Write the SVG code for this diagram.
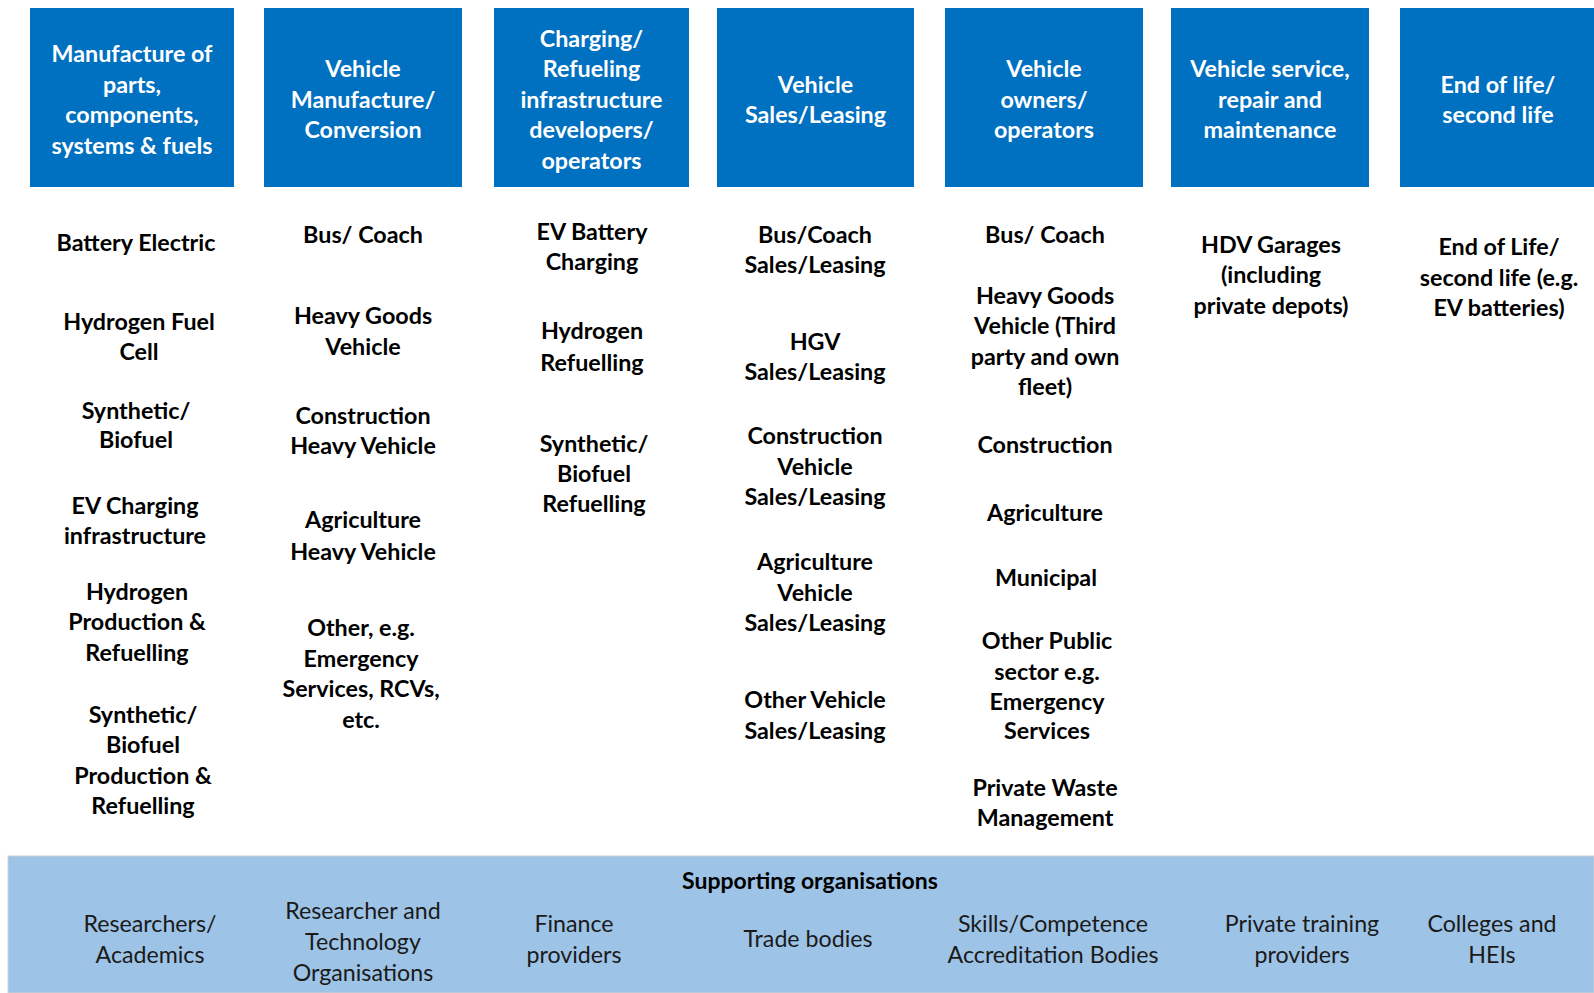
<svg xmlns="http://www.w3.org/2000/svg" width="1594" height="993" viewBox="0 0 1594 993">
<style>
.hdr{fill:#0070C0}
.ht{font-family:Lato,"Open Sans",sans-serif;font-weight:bold;font-size:23.3px;fill:#ffffff;text-anchor:middle}
.bt{font-family:Lato,"Open Sans",sans-serif;font-weight:bold;font-size:23.3px;fill:#000000;text-anchor:middle}
.st{font-family:Lato,"Open Sans",sans-serif;font-size:23.2px;fill:#1a1a1a;text-anchor:middle}
.sh{font-family:Lato,"Open Sans",sans-serif;font-weight:bold;font-size:23px;fill:#000000;text-anchor:middle}
</style>
<rect width="1594" height="993" fill="#ffffff"/>
<g id="col1">
<rect class="hdr" x="30" y="8" width="204" height="179"/>
<text class="ht"><tspan x="132" y="62">Manufacture of</tspan><tspan x="132" y="92.5">parts,</tspan><tspan x="132" y="123">components,</tspan><tspan x="132" y="153.5">systems &amp; fuels</tspan></text>
<text class="bt"><tspan x="136" y="251">Battery Electric</tspan></text>
<text class="bt"><tspan x="139" y="330">Hydrogen Fuel</tspan><tspan x="139" y="360">Cell</tspan></text>
<text class="bt"><tspan x="136" y="419">Synthetic/</tspan><tspan x="136" y="448">Biofuel</tspan></text>
<text class="bt"><tspan x="135" y="514">EV Charging</tspan><tspan x="135" y="544">infrastructure</tspan></text>
<text class="bt"><tspan x="137" y="600">Hydrogen</tspan><tspan x="137" y="630">Production &amp;</tspan><tspan x="137" y="661">Refuelling</tspan></text>
<text class="bt"><tspan x="143" y="723">Synthetic/</tspan><tspan x="143" y="753">Biofuel</tspan><tspan x="143" y="784">Production &amp;</tspan><tspan x="143" y="814">Refuelling</tspan></text>
</g>
<g id="col2">
<rect class="hdr" x="264" y="8" width="198" height="179"/>
<text class="ht"><tspan x="363" y="77">Vehicle</tspan><tspan x="363" y="107.5">Manufacture/</tspan><tspan x="363" y="138">Conversion</tspan></text>
<text class="bt"><tspan x="363" y="243">Bus/ Coach</tspan></text>
<text class="bt"><tspan x="363" y="324">Heavy Goods</tspan><tspan x="363" y="355">Vehicle</tspan></text>
<text class="bt"><tspan x="363" y="424">Construction</tspan><tspan x="363" y="454">Heavy Vehicle</tspan></text>
<text class="bt"><tspan x="363" y="528">Agriculture</tspan><tspan x="363" y="560">Heavy Vehicle</tspan></text>
<text class="bt"><tspan x="361" y="636">Other, e.g.</tspan><tspan x="361" y="667">Emergency</tspan><tspan x="361" y="697">Services, RCVs,</tspan><tspan x="361" y="728">etc.</tspan></text>
</g>
<g id="col3">
<rect class="hdr" x="494" y="8" width="195" height="179"/>
<text class="ht"><tspan x="591.5" y="46.5">Charging/</tspan><tspan x="591.5" y="77">Refueling</tspan><tspan x="591.5" y="107.5">infrastructure</tspan><tspan x="591.5" y="138">developers/</tspan><tspan x="591.5" y="168.5">operators</tspan></text>
<text class="bt"><tspan x="592" y="240">EV Battery</tspan><tspan x="592" y="270">Charging</tspan></text>
<text class="bt"><tspan x="592" y="339">Hydrogen</tspan><tspan x="592" y="371">Refuelling</tspan></text>
<text class="bt"><tspan x="594" y="452">Synthetic/</tspan><tspan x="594" y="482">Biofuel</tspan><tspan x="594" y="512">Refuelling</tspan></text>
</g>
<g id="col4">
<rect class="hdr" x="717" y="8" width="197" height="179"/>
<text class="ht"><tspan x="815.5" y="92.5">Vehicle</tspan><tspan x="815.5" y="123">Sales/Leasing</tspan></text>
<text class="bt"><tspan x="815" y="243">Bus/Coach</tspan><tspan x="815" y="273">Sales/Leasing</tspan></text>
<text class="bt"><tspan x="815" y="350">HGV</tspan><tspan x="815" y="380">Sales/Leasing</tspan></text>
<text class="bt"><tspan x="815" y="444">Construction</tspan><tspan x="815" y="475">Vehicle</tspan><tspan x="815" y="505">Sales/Leasing</tspan></text>
<text class="bt"><tspan x="815" y="570">Agriculture</tspan><tspan x="815" y="601">Vehicle</tspan><tspan x="815" y="631">Sales/Leasing</tspan></text>
<text class="bt"><tspan x="815" y="708">Other Vehicle</tspan><tspan x="815" y="739">Sales/Leasing</tspan></text>
</g>
<g id="col5">
<rect class="hdr" x="945" y="8" width="198" height="179"/>
<text class="ht"><tspan x="1044" y="77">Vehicle</tspan><tspan x="1044" y="107.5">owners/</tspan><tspan x="1044" y="138">operators</tspan></text>
<text class="bt"><tspan x="1045" y="243">Bus/ Coach</tspan></text>
<text class="bt"><tspan x="1045" y="304">Heavy Goods</tspan><tspan x="1045" y="334">Vehicle (Third</tspan><tspan x="1045" y="365">party and own</tspan><tspan x="1045" y="395">fleet)</tspan></text>
<text class="bt"><tspan x="1045" y="453">Construction</tspan></text>
<text class="bt"><tspan x="1045" y="521">Agriculture</tspan></text>
<text class="bt"><tspan x="1046" y="586">Municipal</tspan></text>
<text class="bt"><tspan x="1047" y="649">Other Public</tspan><tspan x="1047" y="680">sector e.g.</tspan><tspan x="1047" y="710">Emergency</tspan><tspan x="1047" y="739">Services</tspan></text>
<text class="bt"><tspan x="1045" y="796">Private Waste</tspan><tspan x="1045" y="826">Management</tspan></text>
</g>
<g id="col6">
<rect class="hdr" x="1171" y="8" width="198" height="179"/>
<text class="ht"><tspan x="1270" y="77">Vehicle service,</tspan><tspan x="1270" y="107.5">repair and</tspan><tspan x="1270" y="138">maintenance</tspan></text>
<text class="bt"><tspan x="1271" y="253">HDV Garages</tspan><tspan x="1271" y="283">(including</tspan><tspan x="1271" y="314">private depots)</tspan></text>
</g>
<g id="col7">
<rect class="hdr" x="1400" y="8" width="194" height="179"/>
<text class="ht"><tspan x="1498" y="92.5">End of life/</tspan><tspan x="1498" y="123">second life</tspan></text>
<text class="bt"><tspan x="1499" y="255">End of Life/</tspan><tspan x="1499" y="286">second life (e.g.</tspan><tspan x="1499" y="316">EV batteries)</tspan></text>
</g>
<g id="supporting">
<rect x="8" y="856" width="1586" height="137" fill="#9DC3E6" stroke="#d0d0d0" stroke-width="1"/>
<text class="sh" x="810" y="889">Supporting organisations</text>
<text class="st"><tspan x="150" y="932">Researchers/</tspan><tspan x="150" y="963">Academics</tspan></text>
<text class="st"><tspan x="363" y="919">Researcher and</tspan><tspan x="363" y="950">Technology</tspan><tspan x="363" y="981">Organisations</tspan></text>
<text class="st"><tspan x="574" y="932">Finance</tspan><tspan x="574" y="963">providers</tspan></text>
<text class="st"><tspan x="808" y="947">Trade bodies</tspan></text>
<text class="st"><tspan x="1053" y="932">Skills/Competence</tspan><tspan x="1053" y="963">Accreditation Bodies</tspan></text>
<text class="st"><tspan x="1302" y="932">Private training</tspan><tspan x="1302" y="963">providers</tspan></text>
<text class="st"><tspan x="1492" y="932">Colleges and</tspan><tspan x="1492" y="963">HEIs</tspan></text>
</g>
<g id="connectors"></g>
</svg>
